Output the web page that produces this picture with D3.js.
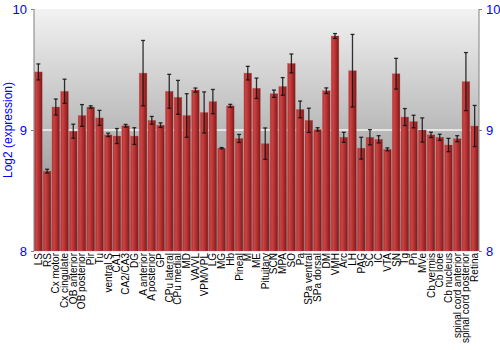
<!DOCTYPE html>
<html>
<head>
<meta charset="utf-8">
<script src="https://cdn.jsdelivr.net/npm/d3@7"></script>
<style>
  body { margin: 0; background: #fff; }
  text { font-family: "Liberation Sans", Arial, sans-serif; }
</style>
</head>
<body>
<div id="chart"></div>
<script>
const width = 500;
const height = 350;
const margin = { top: 9, right: 21, bottom: 99, left: 34 };

const regions = ["LS", "RS", "Cx motor", "Cx cingulate", "OB anterior", "OB posterior", "Pir", "Tu",
  "ventral S", "CA1", "CA2/CA3", "DG", "A anterior", "A posterior", "GP", "CPu lateral", "CPu medial",
  "MD", "VA/VL", "VPM/VPL", "LG", "MG", "Hb", "Pineal", "M", "ME", "Pituitary", "SCN", "MPA", "SO",
  "Pa", "SPa ventral", "SPa dorsal", "DM", "VMH", "Arc", "LH", "PAG", "SC", "IC", "VTA", "SN", "Tg",
  "Pn", "MVe", "Cb vermis", "Cb lobe", "Cb nucleus", "spinal cord anterior", "spinal cord posterior", "Retina"];

const expression = [9.48, 8.66, 9.19, 9.32, 8.99, 9.12, 9.19, 9.10,
  8.96, 8.95, 9.035, 8.95, 9.47, 9.08, 9.04, 9.32, 9.27,
  9.12, 9.33, 9.145, 9.235, 8.85, 9.20, 8.93, 9.47, 9.345, 8.887, 9.30, 9.36, 9.55,
  9.17, 9.08, 9.005, 9.325, 9.777, 8.94, 9.49, 8.85, 8.94, 8.923, 8.84, 9.465, 9.107,
  9.07, 9.00, 8.96, 8.94, 8.876, 8.928, 9.40, 9.033];

const errors = [0.066, 0.016, 0.066, 0.10, 0.058, 0.09, 0.01, 0.062,
  0.014, 0.062, 0.011, 0.069, 0.27, 0.032, 0.019, 0.14, 0.14,
  0.18, 0.017, 0.17, 0.10, 0.005, 0.012, 0.033, 0.056, 0.084, 0.13, 0.03, 0.073, 0.078,
  0.069, 0.10, 0.014, 0.023, 0.02, 0.041, 0.30, 0.09, 0.063, 0.03, 0.012, 0.127, 0.07,
  0.052, 0.10, 0.022, 0.025, 0.055, 0.025, 0.24, 0.17];

const yTicks = [8, 9, 10];

const data = regions.map((r, i) => ({ region: r, value: expression[i], err: errors[i] }));

const svg = d3.select("#chart")
  .append("svg")
  .attr("width", width)
  .attr("height", height);

const defs = svg.append("defs");

const bg = defs.append("linearGradient")
  .attr("id", "bg")
  .attr("x1", 0).attr("y1", 0).attr("x2", 0).attr("y2", 1);
bg.append("stop").attr("offset", "0%").attr("stop-color", "#f2f2f2");
bg.append("stop").attr("offset", "100%").attr("stop-color", "#808080");

const barGrad = defs.append("linearGradient")
  .attr("id", "bar")
  .attr("x1", 0).attr("y1", 0).attr("x2", 1).attr("y2", 0);
barGrad.append("stop").attr("offset", "0%").attr("stop-color", "#b03030");
barGrad.append("stop").attr("offset", "25%").attr("stop-color", "#c94444");
barGrad.append("stop").attr("offset", "60%").attr("stop-color", "#b02e2e");
barGrad.append("stop").attr("offset", "100%").attr("stop-color", "#7a1a1a");

const x = d3.scaleBand()
  .domain(regions)
  .range([margin.left, width - margin.right])
  .paddingInner(0.12)
  .paddingOuter(0.06);

const y = d3.scaleLinear()
  .domain([8, 10])
  .range([height - margin.bottom, margin.top]);

// plot background
svg.append("rect")
  .attr("x", margin.left)
  .attr("y", margin.top)
  .attr("width", width - margin.left - margin.right)
  .attr("height", height - margin.top - margin.bottom)
  .attr("fill", "url(#bg)");

// grid line at 9
svg.append("line")
  .attr("x1", margin.left)
  .attr("x2", width - margin.right)
  .attr("y1", y(9))
  .attr("y2", y(9))
  .attr("stroke", "#f4f4f4")
  .attr("stroke-width", 1.5);

// bars
svg.selectAll(".bar")
  .data(data)
  .enter()
  .append("rect")
  .attr("class", "bar")
  .attr("x", d => x(d.region))
  .attr("y", d => y(d.value))
  .attr("width", x.bandwidth())
  .attr("height", d => y(8) - y(d.value))
  .attr("fill", "url(#bar)")
  .attr("stroke", "#c85a5a")
  .attr("stroke-opacity", 0.5)
  .attr("stroke-width", 0.6);

// error bars
const eb = svg.selectAll(".err")
  .data(data)
  .enter()
  .append("g")
  .attr("class", "err")
  .attr("stroke", "#111")
  .attr("stroke-opacity", 0.85)
  .attr("stroke-width", 1.3);

eb.append("line")
  .attr("x1", d => x(d.region) + x.bandwidth() / 2)
  .attr("x2", d => x(d.region) + x.bandwidth() / 2)
  .attr("y1", d => y(d.value + d.err))
  .attr("y2", d => y(d.value - d.err));

eb.selectAll(".cap")
  .data(d => [d.value + d.err, d.value - d.err].map(v => ({ region: d.region, v: v })))
  .enter()
  .append("line")
  .attr("x1", d => x(d.region) + x.bandwidth() / 2 - 2)
  .attr("x2", d => x(d.region) + x.bandwidth() / 2 + 2)
  .attr("y1", d => y(d.v))
  .attr("y2", d => y(d.v));

// axes frame lines
svg.append("line")
  .attr("x1", margin.left).attr("x2", margin.left)
  .attr("y1", margin.top).attr("y2", height - margin.bottom)
  .attr("stroke", "#808080");
svg.append("line")
  .attr("x1", width - margin.right).attr("x2", width - margin.right)
  .attr("y1", margin.top).attr("y2", height - margin.bottom)
  .attr("stroke", "#808080");

// y axes (left and right)
const leftAxis = svg.append("g")
  .attr("transform", `translate(${margin.left},0)`)
  .call(d3.axisLeft(y).tickValues(yTicks).tickFormat(d3.format("d")).tickSize(3).tickPadding(4));
const rightAxis = svg.append("g")
  .attr("transform", `translate(${width - margin.right},0)`)
  .call(d3.axisRight(y).tickValues(yTicks).tickFormat(d3.format("d")).tickSize(3).tickPadding(4));

[leftAxis, rightAxis].forEach(a => {
  a.select(".domain").remove();
  a.selectAll("line").attr("stroke", "#808080");
  a.selectAll("text")
    .attr("fill", "#0000ff")
    .style("font-size", "13px")
    .style("font-family", "'Liberation Sans', Arial, sans-serif");
});

// x labels
const xAxis = svg.append("g")
  .attr("transform", `translate(0,${height - margin.bottom})`)
  .call(d3.axisBottom(x).tickSize(0).tickPadding(0));
xAxis.select(".domain").remove();
xAxis.selectAll("text")
  .attr("transform", "rotate(-90)")
  .attr("x", -2)
  .attr("y", 0)
  .attr("dy", "0.35em")
  .attr("text-anchor", "end")
  .attr("fill", "#000")
  .style("font-size", "10px")
  .style("font-family", "'Liberation Sans', Arial, sans-serif");

// y axis title
svg.append("text")
  .attr("transform", `translate(12,${y(9)}) rotate(-90)`)
  .attr("text-anchor", "middle")
  .attr("fill", "#0000ff")
  .style("font-size", "12px")
  .text("Log2 (expression)");
</script>
</body>
</html>
